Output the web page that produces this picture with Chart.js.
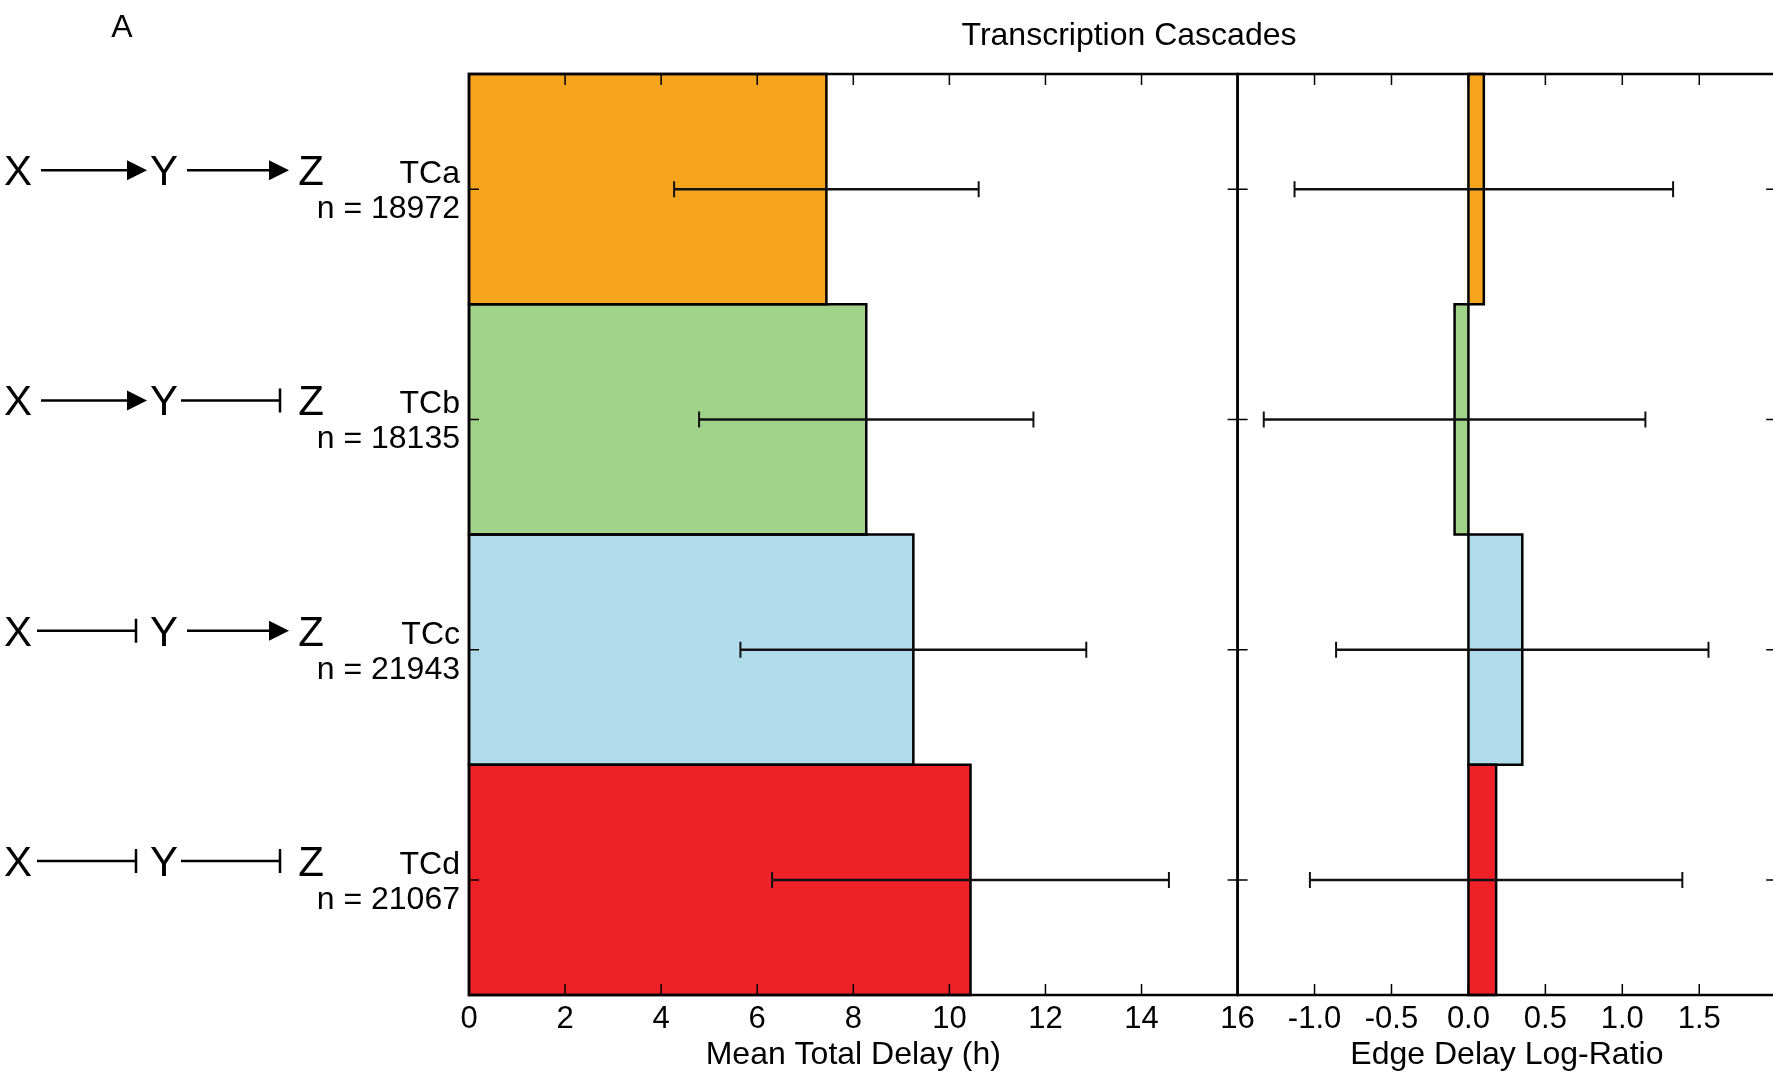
<!DOCTYPE html>
<html>
<head>
<meta charset="utf-8">
<script src="https://cdn.jsdelivr.net/npm/chart.js@4.4.1/dist/chart.umd.min.js"></script>
<style>
  html, body { margin: 0; padding: 0; background: #fff; }
  body { width: 1773px; height: 1074px; overflow: hidden; position: relative; }
  canvas { position: absolute; top: 0; }
  #delay-chart { left: 0; }
  #ratio-chart { left: 1200px; }
</style>
</head>
<body>
<canvas id="delay-chart" width="1773" height="1074"></canvas>
<canvas id="ratio-chart" width="600" height="1074"></canvas>
<script>
const categories = ["TCa", "TCb", "TCc", "TCd"];
const sampleSizes = [18972, 18135, 21943, 21067];
const barColors = ["#F7A51D", "#A0D28A", "#B0DBEA", "#EE2129"];

// mean total delay (h) and its spread
const meanDelay = [7.44, 8.27, 9.25, 10.44];
const meanDelayErr = [3.17, 3.48, 3.60, 4.13];

// edge delay log-ratio and its spread
const logRatio = [0.10, -0.09, 0.35, 0.18];
const logRatioErr = [1.23, 1.24, 1.21, 1.21];

// x axis ranges: [min, max, step]
const delayTicks = [0, 16, 2];
const ratioTicks = [-1.5, 2.0, 0.5];

// regulation type of X->Y and Y->Z for each cascade
const firstEdge = ["act", "act", "rep", "rep"];
const secondEdge = ["act", "rep", "act", "rep"];

Chart.defaults.font.family = '"Liberation Sans", Arial, Helvetica, sans-serif';
Chart.defaults.color = "#000";

function xAxis(range, title, fmt) {
  return {
    type: "linear",
    min: range[0],
    max: range[1],
    grid: { display: false, drawTicks: false },
    border: { display: false },
    ticks: {
      stepSize: range[2],
      autoSkip: false,
      maxRotation: 0,
      padding: 6,
      color: "#000",
      font: { size: 31 },
      callback: fmt,
    },
    title: { display: true, text: title, color: "#000", font: { size: 32 }, padding: 0 },
    afterFit(scale) {
      scale.height = 79;
    },
  };
}

// black outline of each bar, centred on its edges so neighbours share one line
const barOutline = {
  id: "barOutline",
  afterDatasetsDraw(chart) {
    const { ctx } = chart;
    ctx.save();
    ctx.lineWidth = 2.5;
    ctx.strokeStyle = "#000";
    chart.getDatasetMeta(0).data.forEach((bar) => {
      const { x, y, base, height } = bar.getProps(["x", "y", "base", "height"], true);
      ctx.strokeRect(Math.min(x, base), y - height / 2, Math.abs(x - base), height);
    });
    ctx.restore();
  },
};

const errorBars = {
  id: "errorBars",
  afterDatasetsDraw(chart, args, opts) {
    const { ctx, scales: { x, y } } = chart;
    const values = chart.data.datasets[0].data;
    ctx.save();
    ctx.strokeStyle = "#111";
    values.forEach((v, i) => {
      const lo = x.getPixelForValue(v - opts.err[i]);
      const hi = x.getPixelForValue(v + opts.err[i]);
      const py = y.getPixelForValue(i);
      ctx.lineWidth = 2.5;
      ctx.beginPath();
      ctx.moveTo(lo, py);
      ctx.lineTo(hi, py);
      ctx.stroke();
      ctx.lineWidth = 2;
      ctx.beginPath();
      ctx.moveTo(lo, py - 8);
      ctx.lineTo(lo, py + 8);
      ctx.moveTo(hi, py - 8);
      ctx.lineTo(hi, py + 8);
      ctx.stroke();
    });
    ctx.restore();
  },
};

// box round the plot area with inward ticks on every side
const frame = {
  id: "frame",
  afterDraw(chart) {
    const { ctx, chartArea: a, scales: { x, y } } = chart;
    ctx.save();
    ctx.strokeStyle = "#000";
    ctx.lineWidth = 1.5;
    ctx.beginPath();
    x.ticks.forEach((t) => {
      const px = x.getPixelForValue(t.value);
      if (px <= a.left + 1 || px >= a.right - 1) return;
      ctx.moveTo(px, a.bottom);
      ctx.lineTo(px, a.bottom - 11);
      ctx.moveTo(px, a.top);
      ctx.lineTo(px, a.top + 11);
    });
    categories.forEach((c, i) => {
      const py = y.getPixelForValue(i);
      ctx.moveTo(a.left, py);
      ctx.lineTo(a.left + 10, py);
      ctx.moveTo(a.right, py);
      ctx.lineTo(a.right - 10, py);
    });
    ctx.stroke();
    ctx.lineWidth = 2.5;
    ctx.strokeRect(a.left, a.top, a.right - a.left, a.bottom - a.top);
    ctx.restore();
  },
};

function drawEdge(ctx, x0, x1, yc, kind) {
  ctx.beginPath();
  if (kind === "act") {
    ctx.moveTo(x0, yc);
    ctx.lineTo(x1 - 18, yc);
    ctx.stroke();
    ctx.beginPath();
    ctx.moveTo(x1, yc);
    ctx.lineTo(x1 - 20, yc - 10);
    ctx.lineTo(x1 - 20, yc + 10);
    ctx.closePath();
    ctx.fill();
  } else {
    ctx.moveTo(x0, yc);
    ctx.lineTo(x1, yc);
    ctx.moveTo(x1, yc - 12);
    ctx.lineTo(x1, yc + 12);
    ctx.stroke();
  }
}

// motif drawings, cascade names and counts left of the axis, plus titles
const rowLabels = {
  id: "rowLabels",
  afterDraw(chart) {
    const { ctx, chartArea: a, scales: { y } } = chart;
    const family = Chart.defaults.font.family;
    ctx.save();
    ctx.fillStyle = "#000";
    ctx.strokeStyle = "#000";
    ctx.lineWidth = 2.5;

    ctx.font = "32px " + family;
    ctx.textAlign = "center";
    ctx.textBaseline = "middle";
    ctx.fillText("A", 122, 28);
    ctx.fillText("Transcription Cascades", 1129, 36);

    categories.forEach((name, i) => {
      const py = y.getPixelForValue(i);
      const yc = py - 19;

      ctx.font = "32px " + family;
      ctx.textAlign = "right";
      ctx.textBaseline = "alphabetic";
      ctx.fillText(name, a.left - 9, py - 6);
      ctx.fillText("n = " + sampleSizes[i], a.left - 9, py + 29);

      ctx.font = "42px " + family;
      ctx.textAlign = "center";
      ctx.fillText("X", 18, yc + 15);
      ctx.fillText("Y", 164, yc + 15);
      ctx.fillText("Z", 311, yc + 15);

      if (firstEdge[i] === "act") drawEdge(ctx, 41, 147, yc, "act");
      else drawEdge(ctx, 37, 136, yc, "rep");
      if (secondEdge[i] === "act") drawEdge(ctx, 187, 289, yc, "act");
      else drawEdge(ctx, 181, 280, yc, "rep");
    });
    ctx.restore();
  },
};

function panel(canvasId, values, err, range, title, fmt, padding, extra) {
  return new Chart(document.getElementById(canvasId), {
    type: "bar",
    data: {
      labels: categories,
      datasets: [
        {
          data: values,
          backgroundColor: barColors,
          borderWidth: 0,
          barPercentage: 1,
          categoryPercentage: 1,
        },
      ],
    },
    options: {
      indexAxis: "y",
      responsive: false,
      animation: false,
      layout: { padding },
      scales: {
        x: xAxis(range, title, fmt),
        y: { type: "category", display: false },
      },
      plugins: {
        legend: { display: false },
        tooltip: { enabled: false },
        errorBars: { err },
      },
    },
    plugins: [barOutline, errorBars, frame].concat(extra),
  });
}

panel(
  "delay-chart",
  meanDelay,
  meanDelayErr,
  delayTicks,
  "Mean Total Delay (h)",
  (v) => String(v),
  { left: 469, right: 535.4, top: 74, bottom: 0 },
  [rowLabels]
);

panel(
  "ratio-chart",
  logRatio,
  logRatioErr,
  ratioTicks,
  "Edge Delay Log-Ratio",
  (v) => (v <= ratioTicks[0] + 1e-9 || v >= ratioTicks[1] - 1e-9 ? "" : v.toFixed(1)),
  { left: 37.6, right: 23.8, top: 74, bottom: 0 },
  []
);
</script>
</body>
</html>
